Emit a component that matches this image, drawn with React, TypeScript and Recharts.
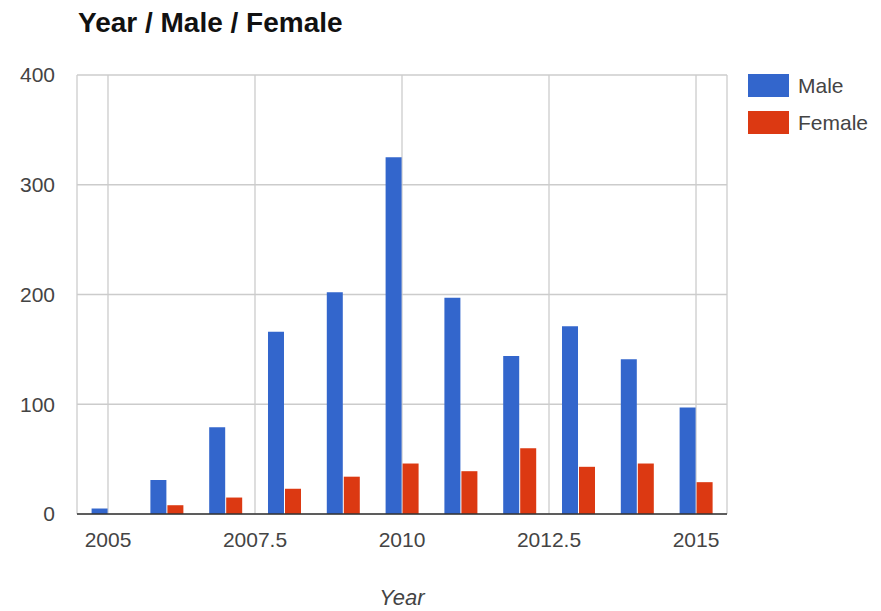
import React from 'react';
import { BarChart, Bar, XAxis, YAxis, CartesianGrid, Legend, Label } from 'recharts';

const years = [2005, 2006, 2007, 2008, 2009, 2010, 2011, 2012, 2013, 2014, 2015];
const male = [5, 31, 79, 166, 202, 325, 197, 144, 171, 141, 97];
const female = [0, 8, 15, 23, 34, 46, 39, 60, 43, 46, 29];
const seriesNames = ['Male', 'Female'];
const xTicks = [2005, 2007.5, 2010, 2012.5, 2015];
const yTicks = [0, 100, 200, 300, 400];

const data = years.map((year, i) => ({ year, Male: male[i], Female: female[i] }));

const FONT = '"Liberation Sans", Arial, sans-serif';
const MALE_COLOR = '#3366CC';
const FEMALE_COLOR = '#DC3912';

const renderLegend = (props: any) => {
  const payload = [...(props.payload || [])].sort(
    (a: any, b: any) => seriesNames.indexOf(a.value) - seriesNames.indexOf(b.value)
  );
  return (
    <svg width={134} height={70} style={{ display: 'block' }}>
      {payload.map((p: any, i: number) => (
        <g key={p.value}>
          <rect x={1} y={i * 37} width={41} height={23} fill={p.color} />
          <text x={51} y={i * 37 + 19} fontSize={21} fill="#444" fontFamily={FONT}>
            {p.value}
          </text>
        </g>
      ))}
    </svg>
  );
};

export default function App() {
  return (
    <div style={{ position: 'absolute', left: 0, top: 0, width: 881, height: 611, background: '#fff', fontFamily: FONT }}>
      <div
        style={{
          position: 'absolute',
          left: 78,
          top: 9,
          fontSize: 28,
          lineHeight: '28px',
          fontWeight: 'bold',
          color: '#111',
          fontFamily: FONT,
          whiteSpace: 'nowrap',
        }}
      >
        Year / Male / Female
      </div>
      <BarChart
        width={881}
        height={611}
        data={data}
        margin={{ top: 75, right: 154, bottom: 0, left: 0 }}
        barSize={16}
        barGap={1}
      >
        <CartesianGrid stroke="#cccccc" strokeWidth={1.3} />
        <XAxis
          type="number"
          dataKey="year"
          domain={[2004.473, 2015.527]}
          ticks={xTicks}
          interval={0}
          height={97}
          tickSize={0}
          tickMargin={18}
          axisLine={{ stroke: '#333', strokeWidth: 1.5 }}
          tickLine={false}
          tick={{ fontSize: 21, fill: '#444', fontFamily: FONT }}
        >
          <Label
            value="Year"
            position="insideBottom"
            offset={6}
            fontSize={22}
            fontStyle="italic"
            fill="#444"
            fontFamily={FONT}
          />
        </XAxis>
        <YAxis
          type="number"
          domain={[0, 400]}
          ticks={yTicks}
          interval={0}
          width={77}
          tickSize={0}
          tickMargin={22}
          axisLine={false}
          tickLine={false}
          tick={{ fontSize: 21, fill: '#444', fontFamily: FONT }}
        />
        <Legend
          layout="horizontal"
          align="center"
          verticalAlign="middle"
          content={renderLegend}
          wrapperStyle={{ left: 747, top: 74, width: 134, height: 70 }}
        />
        <Bar dataKey="Male" name="Male" fill={MALE_COLOR} isAnimationActive={false} />
        <Bar dataKey="Female" name="Female" fill={FEMALE_COLOR} isAnimationActive={false} />
      </BarChart>
    </div>
  );
}
